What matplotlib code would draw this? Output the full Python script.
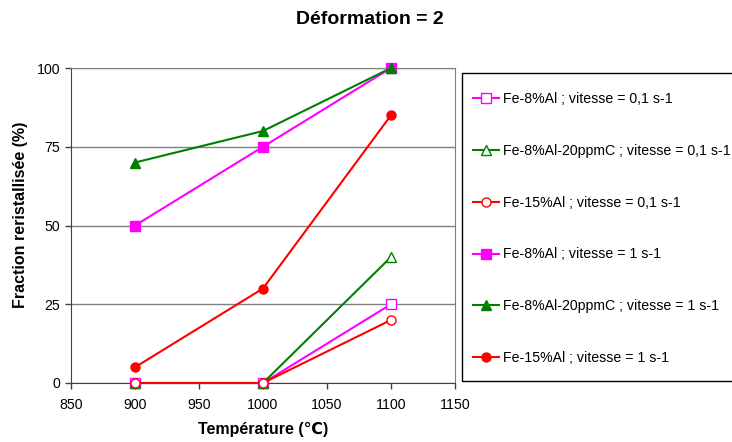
import matplotlib
matplotlib.use("Agg")
import matplotlib.pyplot as plt
from matplotlib.patches import Rectangle

plt.rcParams['font.family'] = ['Liberation Sans', 'DejaVu Sans']

temperatures = [900, 1000, 1100]
labels = [
    "Fe-8%Al ; vitesse = 0,1 s-1",
    "Fe-8%Al-20ppmC ; vitesse = 0,1 s-1",
    "Fe-15%Al ; vitesse = 0,1 s-1",
    "Fe-8%Al ; vitesse = 1 s-1",
    "Fe-8%Al-20ppmC ; vitesse = 1 s-1",
    "Fe-15%Al ; vitesse = 1 s-1",
]
fe8_01 = [0, 0, 25]
fe8c_01 = [0, 0, 40]
fe15_01 = [0, 0, 20]
fe8_1 = [50, 75, 100]
fe8c_1 = [70, 80, 100]
fe15_1 = [5, 30, 85]
series = [fe8_01, fe8c_01, fe15_01, fe8_1, fe8c_1, fe15_1]

colors = ['#FF00FF', '#008000', '#FF0000', '#FF00FF', '#008000', '#FF0000']
markers = ['s', '^', 'o', 's', '^', 'o']
filled = [False, False, False, True, True, True]

fig = plt.figure(figsize=(7.32, 4.42), dpi=100)
ax = fig.add_axes([71/732, 1-383/442, (455-71)/732, (383-68)/442])

handles = []
for ys, lab, c, m, f in zip(series, labels, colors, markers, filled):
    h, = ax.plot(temperatures, ys, color=c, lw=1.5, marker=m, markersize=6.5,
                 markerfacecolor=c if f else 'white', markeredgecolor=c,
                 markeredgewidth=1.0, label=lab, clip_on=False, zorder=3)
    handles.append(h)

ax.set_xlim(850, 1150)
ax.set_ylim(0, 100)
ax.set_xticks([850, 900, 950, 1000, 1050, 1100, 1150])
ax.set_yticks([0, 25, 50, 75, 100])
ax.yaxis.grid(True, color='#808080', lw=1.0, zorder=0)
ax.set_axisbelow(True)
for s in ['top', 'right']:
    ax.spines[s].set_color('#808080')
for s in ['left', 'bottom']:
    ax.spines[s].set_color('#404040')
ax.tick_params(axis='both', direction='out', length=4, width=1, color='#404040',
               labelsize=10.2)
ax.tick_params(axis='x', pad=7)
ax.tick_params(axis='y', pad=4)

ax.set_xlabel("Température (℃)", fontsize=11.5, fontweight='bold', labelpad=7)
ax.set_ylabel("Fraction reristallisée (%)", fontsize=11.5, fontweight='bold')
ax.yaxis.set_label_coords((28 - 71) / 384, (383 - 215) / 315)
fig.text(370/732, 1-19/442, "Déformation = 2", fontsize=14, fontweight='bold',
         ha='center', va='center')

fig.patches.append(Rectangle((462/732, 1-381/442), (760-462)/732, (381-73)/442,
                             transform=fig.transFigure, fill=False,
                             edgecolor='black', lw=1.0))

leg = fig.legend(handles=handles, loc='upper left',
                 bbox_to_anchor=(473/732, 1-92/442), bbox_transform=fig.transFigure,
                 borderaxespad=0, fontsize=10.2, frameon=False,
                 labelspacing=2.67, handlelength=1.85,
                 handletextpad=0.25, borderpad=0)

fig.savefig("out.png", dpi=100)
